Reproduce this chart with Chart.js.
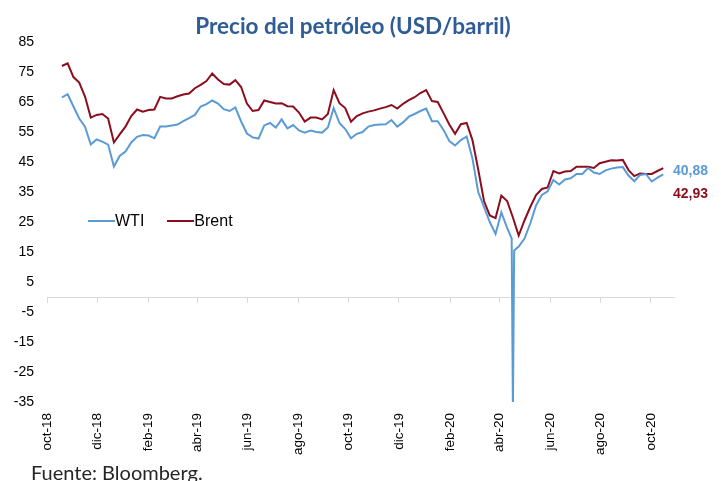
<!DOCTYPE html>
<html>
<head>
<meta charset="utf-8">
<script src="https://cdn.jsdelivr.net/npm/chart.js@4.4.1/dist/chart.umd.min.js"></script>
<style>
  body { margin: 0; background: #fff; }
  #wrap { position: relative; width: 721px; height: 481px; overflow: hidden; }
  #grafico { position: absolute; left: 0; top: 0; }
  .titulo { position: absolute; left: 0; width: 706px; top: 13px; text-align: center;
            font: bold 22.5px Lato, sans-serif; line-height: 26px; color: #2F5C96; }
  .leyenda { position: absolute; left: 88px; top: 212px; display: flex; align-items: center;
             font: 16px "Liberation Sans", Arial, sans-serif; line-height: 18px; color: #000; }
  .leyenda .item { display: flex; align-items: center; margin-right: 23px; }
  .leyenda .linea { width: 27px; height: 2px; }
  .ultimo { position: absolute; left: 673px; font: bold 14px "Liberation Sans", Arial, sans-serif; line-height: 16px; }
  .fuente { position: absolute; left: 31px; top: 462px; font: 20px Lato, sans-serif; line-height: 20px; color: #262626; }
</style>
</head>
<body>
<div id="wrap">
  <canvas id="grafico" width="721" height="481"></canvas>
  <div class="titulo">Precio del petróleo (USD/barril)</div>
  <div class="leyenda" id="leyenda"></div>
  <div class="ultimo" id="ultimoWTI" style="top:162px"></div>
  <div class="ultimo" id="ultimoBrent" style="top:185px"></div>
  <div class="fuente">Fuente: Bloomberg.</div>
</div>
<script>
// días contados desde el 1-oct-2018; datos semanales desde el 19-oct-2018
const diaInicial = 18;
const pasoDias = 7;

const wti = [66.5, 67.6, 63.5, 59.5, 56.8, 50.8, 52.5, 51.8, 50.8, 43.5,
             47.0, 48.5, 51.5, 53.4, 54.0, 53.8, 52.9, 56.8, 56.8, 57.2,
             57.5, 58.6, 59.6, 60.7, 63.5, 64.3, 65.5, 64.5, 62.6, 62.0,
             63.2, 58.5, 54.5, 53.2, 52.8, 57.2, 58.0, 56.5, 59.2, 56.2,
             57.3, 55.5, 54.8, 55.5, 55.0, 54.8, 56.5, 63.0, 58.0, 56.0,
             52.9, 54.4, 55.0, 56.8, 57.3, 57.5, 57.6, 59.0, 56.8, 58.2,
             60.1, 61.0, 62.0, 62.8, 58.6, 58.6, 55.7, 52.0, 50.5, 52.3,
             53.5, 46.2, 35.0, 30.0, 25.0, 21.0, 28.2, 23.0, -37.6, 16.8,
             19.5, 24.5, 30.5, 34.0, 35.2, 39.0, 37.5, 39.2, 39.6, 41.0,
             41.0, 43.0, 41.5, 41.0, 42.2, 42.8, 43.2, 43.3, 40.5, 38.6,
             40.7, 41.0, 38.5, 39.8, 40.88];

const brent = [77.0, 77.9, 73.3, 71.5, 66.8, 59.8, 60.7, 61.0, 59.5, 51.5,
               54.2, 56.8, 60.3, 62.5, 61.8, 62.3, 62.5, 66.7, 66.2, 66.2,
               66.9, 67.5, 67.8, 69.6, 70.7, 72.0, 74.5, 72.5, 71.0, 70.8,
               72.3, 70.0, 64.5, 62.0, 62.3, 65.5, 65.0, 64.5, 64.6, 63.6,
               63.5, 61.5, 58.5, 59.8, 59.8, 59.2, 61.0, 69.0, 64.6, 63.0,
               58.4, 60.3, 61.2, 61.8, 62.2, 62.8, 63.3, 64.0, 62.8, 64.4,
               65.6, 66.6, 68.0, 69.0, 65.3, 65.0, 61.3, 57.5, 54.4, 57.6,
               58.0, 52.3, 42.5, 32.0, 27.2, 26.3, 33.8, 32.0, 26.5, 20.5,
               25.5, 30.0, 34.0, 36.0, 36.5, 42.0, 41.2, 41.8, 42.0, 43.4,
               43.4, 43.4, 43.0, 44.6, 45.1, 45.6, 45.5, 45.7, 42.3, 40.3,
               41.2, 41.0, 41.0, 42.0, 42.93];

// detalle diario alrededor del desplome del WTI (abril 2020)
const diasDetalleWTI = [562.5, 565.5];
const detalleWTI = [19.5, 15.5];

const fechasEje = ['2018-10-01', '2018-12-01', '2019-02-01', '2019-04-01', '2019-06-01', '2019-08-01', '2019-10-01',
                   '2019-12-01', '2020-02-01', '2020-04-01', '2020-06-01', '2020-08-01', '2020-10-01'];
const etiquetasEje = ['oct-18', 'dic-18', 'feb-19', 'abr-19', 'jun-19', 'ago-19', 'oct-19',
                      'dic-19', 'feb-20', 'abr-20', 'jun-20', 'ago-20', 'oct-20'];
const ticksY = [85, 75, 65, 55, 45, 35, 25, 15, 5, -5, -15, -25, -35];
const ultimos = ['40,88', '42,93'];

const colorWTI = '#5B9BD5';
const colorBrent = '#8B0E1F';

const base = Date.parse('2018-10-01');
const diasEje = fechasEje.map(f => (Date.parse(f) - base) / 86400000);

function puntos(valores, diasExtra, extra) {
    const pts = valores.map((v, i) => ({ x: diaInicial + i * pasoDias, y: v }));
    (diasExtra || []).forEach((d, i) => pts.push({ x: d, y: extra[i] }));
    return pts.sort((a, b) => a.x - b.x);
}

const ticksFijos = s => { s.ticks = diasEje.map(v => ({ value: v })); };
const fuenteEje = { family: 'Liberation Sans', size: 13.5 };

const chart = new Chart(document.getElementById('grafico'), {
    type: 'line',
    data: {
        datasets: [
            { label: 'WTI', data: puntos(wti, diasDetalleWTI, detalleWTI), borderColor: colorWTI, backgroundColor: colorWTI },
            { label: 'Brent', data: puntos(brent), borderColor: colorBrent, backgroundColor: colorBrent }
        ]
    },
    options: {
        responsive: false,
        animation: false,
        layout: { padding: { top: 42, right: 47, bottom: 0, left: 0 } },
        elements: {
            point: { radius: 0 },
            line: { borderWidth: 2, tension: 0 }
        },
        plugins: {
            legend: { display: false },
            tooltip: { enabled: false }
        },
        scales: {
            x: {
                type: 'linear', min: 0, max: 759, position: 'bottom',
                afterBuildTicks: ticksFijos,
                afterFit: s => { s.height = 79; },
                ticks: {
                    autoSkip: false, minRotation: 90, maxRotation: 90, padding: 11,
                    color: '#000', font: fuenteEje,
                    callback: (v, i) => etiquetasEje[i]
                },
                grid: { display: false, drawTicks: false },
                border: { display: false }
            },
            x0: {
                type: 'linear', min: 0, max: 759, position: { y: 0 },
                afterBuildTicks: ticksFijos,
                ticks: { display: false },
                grid: { drawOnChartArea: false, drawTicks: true, tickLength: 5, color: '#D9D9D9', lineWidth: 1 },
                border: { display: true, color: '#D9D9D9', width: 1 }
            },
            y: {
                min: -35, max: 85,
                afterBuildTicks: s => { s.ticks = ticksY.map(v => ({ value: v })); },
                afterFit: s => { s.width = 47; },
                ticks: { padding: 13, color: '#000', font: { family: 'Liberation Sans', size: 14 } },
                grid: { display: false, drawTicks: false },
                border: { display: false }
            }
        }
    }
});

// leyenda y últimos valores como texto HTML
const leyenda = document.getElementById('leyenda');
chart.data.datasets.forEach(ds => {
    const item = document.createElement('div');
    item.className = 'item';
    item.innerHTML = `<span class="linea" style="background:${ds.borderColor}"></span><span>${ds.label}</span>`;
    leyenda.appendChild(item);
});
const eWTI = document.getElementById('ultimoWTI');
eWTI.textContent = ultimos[0];
eWTI.style.color = colorWTI;
const eBrent = document.getElementById('ultimoBrent');
eBrent.textContent = ultimos[1];
eBrent.style.color = colorBrent;
</script>
</body>
</html>
